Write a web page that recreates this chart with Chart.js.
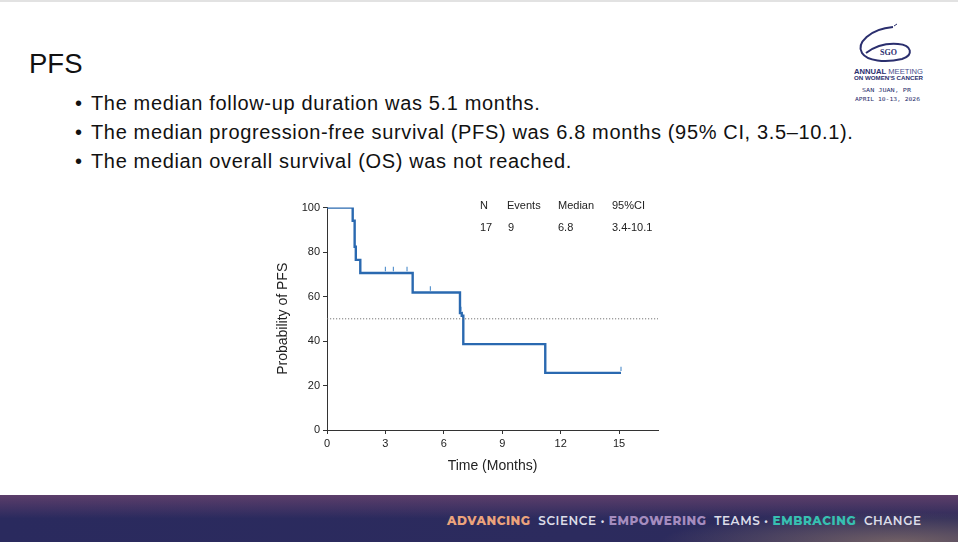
<!DOCTYPE html>
<html>
<head>
<meta charset="utf-8">
<script src="https://cdn.jsdelivr.net/npm/chart.js@4.4.1/dist/chart.umd.min.js"></script>
<style>
html,body{margin:0;padding:0;background:#fff;}
body{width:958px;height:542px;position:relative;overflow:hidden;font-family:"Liberation Sans",Arial,sans-serif;}
#topbar{position:absolute;left:0;top:0;width:958px;height:2px;background:#e2e2e2;}
#title{position:absolute;left:29px;top:48px;font-size:27.5px;color:#111;}
.bul{position:absolute;left:75px;font-size:20px;letter-spacing:0.65px;color:#111;white-space:nowrap;}
.bul span.dot{display:inline-block;width:16px;letter-spacing:0;}
#chartbox{position:absolute;left:275px;top:198px;width:393px;height:277px;}
.tbl{position:absolute;font-size:11px;color:#222;}
#footer{position:absolute;left:0;top:495px;width:958px;height:47px;
 background:linear-gradient(180deg,rgba(125,75,115,0.6) 0%,rgba(60,50,100,0) 50%),linear-gradient(90deg,#2a2a5e 0%,#2c2b5e 60%,#2d2b5a 100%);}
#footer2{position:absolute;left:0;top:495px;width:958px;height:47px;
 background:radial-gradient(ellipse 240px 30px at 900px 47px,rgba(170,140,110,0.55),rgba(170,140,110,0));}
#slogan{position:absolute;left:447px;top:513px;font-size:12px;font-weight:600;letter-spacing:0.55px;white-space:nowrap;font-family:"Montserrat","Lato","Open Sans",sans-serif;color:#dcdde8;}
#slogan b{font-weight:800;}
#logo{position:absolute;left:840px;top:15px;}
</style>
</head>
<body>
<div id="topbar"></div>
<div id="title">PFS</div>
<div class="bul" style="top:92px"><span class="dot">•</span>The median follow-up duration was 5.1 months.</div>
<div class="bul" style="top:121px"><span class="dot">•</span>The median progression-free survival (PFS) was 6.8 months (95% CI, 3.5–10.1).</div>
<div class="bul" style="top:150px"><span class="dot">•</span>The median overall survival (OS) was not reached.</div>

<div id="chartbox"><canvas id="c" width="393" height="277"></canvas></div>
<div class="tbl" style="left:480px;top:199px">N</div>
<div class="tbl" style="left:507px;top:199px">Events</div>
<div class="tbl" style="left:558px;top:199px">Median</div>
<div class="tbl" style="left:612px;top:199px">95%CI</div>
<div class="tbl" style="left:480px;top:221px">17</div>
<div class="tbl" style="left:508px;top:221px">9</div>
<div class="tbl" style="left:558px;top:221px">6.8</div>
<div class="tbl" style="left:612px;top:221px">3.4-10.1</div>

<svg id="logo" width="110" height="95" viewBox="0 0 110 95">
 <path d="M53 12 C 30 14, 16 28, 22 38 C 27 46, 45 48, 62 44 C 74 40, 72 30, 58 29 C 46 28, 34 32, 26 38" fill="none" stroke="#2b2f6e" stroke-width="2"/>
 <path d="M54 11 L 57 9" stroke="#2b2f6e" stroke-width="1"/>
 <text x="40" y="40" font-family="Liberation Serif,serif" font-size="8" font-weight="bold" fill="#2b2f6e">SGO</text>
 <text x="14" y="59" textLength="69" lengthAdjust="spacingAndGlyphs" font-family="Liberation Sans,sans-serif" font-size="7.5" font-weight="bold" fill="#2b2f6e">ANNUAL <tspan font-weight="normal" fill="#4b4f8e">MEETING</tspan></text>
 <text x="14" y="64.5" textLength="69" lengthAdjust="spacingAndGlyphs" font-family="Liberation Sans,sans-serif" font-size="5" font-weight="bold" fill="#2b2f6e">ON WOMEN'S CANCER</text>
 <text x="22" y="77" textLength="49" lengthAdjust="spacingAndGlyphs" font-family="DejaVu Sans Mono,monospace" font-size="5.5" fill="#2b2f6e">SAN JUAN, PR</text>
 <text x="15" y="86" textLength="65" lengthAdjust="spacingAndGlyphs" font-family="DejaVu Sans Mono,monospace" font-size="5.5" fill="#2b2f6e">APRIL 10-13, 2026</text>
</svg>

<div id="footer"></div>
<div id="footer2"></div>
<div id="slogan"><b style="color:#eba37c">ADVANCING</b>&nbsp; SCIENCE • <b style="color:#a58cbf">EMPOWERING</b>&nbsp; TEAMS • <b style="color:#37c0b1">EMBRACING</b>&nbsp; CHANGE</div>

<script>
// Kaplan-Meier PFS curve
const kmTimes    = [0, 1.32, 1.42, 1.48, 1.71, 4.40, 6.83, 6.92, 7.00, 11.21, 15.1];
const kmSurvival = [100, 94.1, 82.4, 76.5, 70.6, 61.8, 52.6, 51.4, 38.6, 25.7, 25.7];
// censor marks
const censorTimes  = [3.0, 3.41, 4.11, 5.31, 6.88, 15.1];
const censorValues = [70.6, 70.6, 70.6, 61.8, 52.6, 25.7];
// reference median line
const medianLevel = 50;
const xTicks = [0, 3, 6, 9, 12, 15];
const yTicks = [0, 20, 40, 60, 80, 100];

const kmPoints = kmTimes.map((t, i) => ({x: t, y: kmSurvival[i]}));
const censorPoints = censorTimes.map((t, i) => ({x: t, y: censorValues[i] + 1.8}));

new Chart(document.getElementById('c'), {
  type: 'scatter',
  data: {
    datasets: [
      {
        data: [{x: 0, y: medianLevel}, {x: 17, y: medianLevel}],
        showLine: true, borderColor: '#777', borderWidth: 1, borderDash: [1.2, 1.8],
        pointRadius: 0
      },
      {
        data: kmPoints, showLine: true, stepped: 'before',
        borderColor: '#2a69b0', borderWidth: 2.4, pointRadius: 0, fill: false
      },
      {
        data: censorPoints, showLine: false,
        pointStyle: 'line', rotation: 90, pointRadius: 2.2,
        pointBorderColor: '#5b95cf', pointBorderWidth: 1.2, pointBackgroundColor: '#5b95cf'
      }
    ]
  },
  options: {
    responsive: false, animation: false, devicePixelRatio: 1,
    maintainAspectRatio: false,
    layout: {padding: {top: 6, right: 10, left: 0, bottom: 0}},
    plugins: {legend: {display: false}, tooltip: {enabled: false}},
    scales: {
      x: {
        type: 'linear', min: 0, max: 17,
        afterBuildTicks: s => { s.ticks = xTicks.map(v => ({value: v})); },
        afterFit: s => { s.height = 45; },
        grid: {display: true, drawOnChartArea: false, drawTicks: true, tickLength: 4, color: '#333', lineWidth: 1},
        border: {display: true, color: '#333', width: 1},
        ticks: {color: '#222', font: {family: 'Liberation Sans', size: 11}, padding: 3, maxRotation: 0},
        title: {display: true, text: 'Time (Months)', color: '#222', font: {family: 'Liberation Sans', size: 14}, padding: {top: 4, bottom: 0}}
      },
      y: {
        type: 'linear', min: 0, max: 100,
        afterBuildTicks: s => { s.ticks = yTicks.map(v => ({value: v})); },
        afterFit: s => { s.width = 52; },
        grid: {display: true, drawOnChartArea: false, drawTicks: true, tickLength: 4, color: '#333', lineWidth: 1},
        border: {display: true, color: '#333', width: 1},
        ticks: {color: '#222', font: {family: 'Liberation Sans', size: 11}, padding: 3},
        title: {display: true, text: 'Probability of PFS', color: '#222', font: {family: 'Liberation Sans', size: 14}, padding: {top: 0, bottom: 2}}
      }
    }
  }
});
</script>
</body>
</html>
